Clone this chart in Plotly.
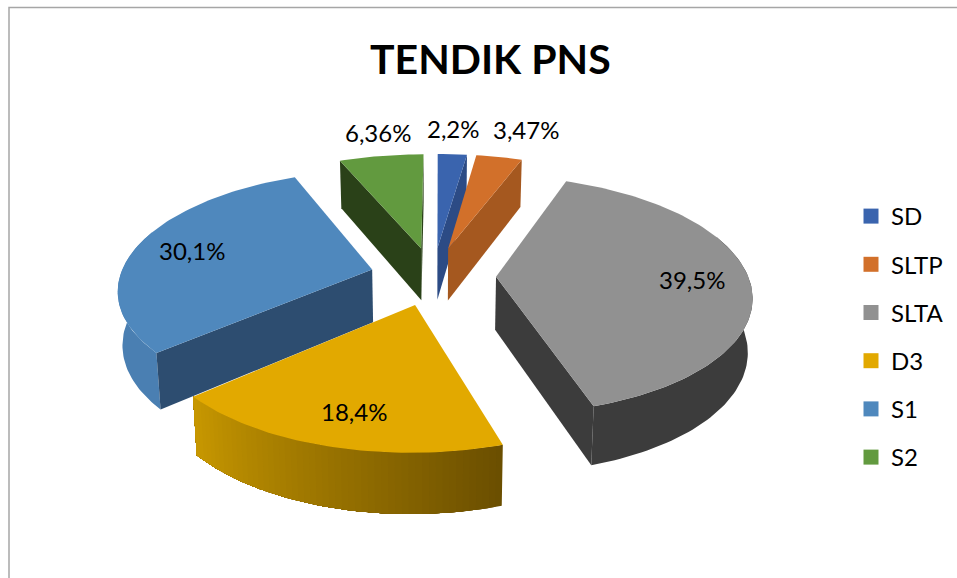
import math
import plotly.graph_objects as go

TITLE = "TENDIK PNS"
categories = ["SD", "SLTP", "SLTA", "D3", "S1", "S2"]
values = [2.2, 3.47, 39.5, 18.4, 30.1, 6.36]
top_colors = ["#3a64ae", "#d2702a", "#919191", "#e2a900", "#4f88bd", "#629a3f"]
cut_colors = ["#2c4b85", "#a5581f", "#3c3c3c", "#745500", "#2d4d70", "#2a4118"]
wall_from = ["#2c4b85", "#a5581f", "#3c3c3c", "#6a4e00", "#4a7fb2", "#2a4118"]
wall_to = ["#2c4b85", "#a5581f", "#3c3c3c", "#c89800", "#4a7fb2", "#2a4118"]
draw_order = ["S2", "SD", "SLTP", "S1", "SLTA", "D3"]
label_pos = {"SD": (453, 128), "SLTP": (526, 129), "SLTA": (692, 279),
             "D3": (354, 411), "S1": (192, 250), "S2": (378, 132)}

CX, CY, R, D, B, K = 433, 276, 252, 116, 1, 0.15
PULL, H, SHRINK = 0.25, 53, 0.985


def project(u, v, bottom=False):
    w = 1 + K * v
    x = (R * u + B * v) / w
    y = -D * v / w
    if bottom:
        return CX + x * SHRINK, CY + y + H / w ** 0.7
    return CX + x, CY + y


def mix(c1, c2, t):
    a = [int(c1[i:i + 2], 16) for i in (1, 3, 5)]
    b = [int(c2[i:i + 2], 16) for i in (1, 3, 5)]
    return "#%02x%02x%02x" % tuple(round(p + (q - p) * t) for p, q in zip(a, b))


def poly(fig, pts, color):
    xs = [p[0] for p in pts] + [pts[0][0]]
    ys = [p[1] for p in pts] + [pts[0][1]]
    fig.add_trace(go.Scatter(x=xs, y=ys, mode="lines", fill="toself", fillcolor=color,
                             line=dict(color=color, width=0), hoverinfo="skip",
                             showlegend=False))


fig = go.Figure()
total = sum(values)
spans = {}
acc = 0.0
for name, val in zip(categories, values):
    spans[name] = (acc / total * 2 * math.pi, (acc + val) / total * 2 * math.pi)
    acc += val

for name in draw_order:
    i = categories.index(name)
    t0, t1 = spans[name]
    mid = (t0 + t1) / 2
    ou, ov = PULL * math.sin(mid), PULL * math.cos(mid)
    n = max(6, int((t1 - t0) * 45))
    th = [t0 + (t1 - t0) * k / n for k in range(n + 1)]
    disk = [(ou + math.sin(a), ov + math.cos(a)) for a in th]
    top = [project(*d) for d in disk]
    bot = [project(*d, bottom=True) for d in disk]
    ap, ab = project(ou, ov), project(ou, ov, bottom=True)
    mp = top[n // 2]
    # outer wall: each band reaches the end of the wall, so no seams show
    vis = [k for k in range(n) if math.cos((th[k] + th[k + 1]) / 2) < 0.35]
    if vis:
        last = vis[-1] + 1
        uniform = wall_from[i] == wall_to[i]
        for k in vis[:1] if uniform else vis:
            poly(fig, top[k:last + 1] + bot[k:last + 1][::-1],
                 mix(wall_from[i], wall_to[i], (k + 0.5) / n))
    # cut faces: only those whose downward extrusion leaves the top face
    for r, b in ((top[0], bot[0]), (top[-1], bot[-1])):
        c1 = (r[0] - ap[0]) * (mp[1] - ap[1]) - (r[1] - ap[1]) * (mp[0] - ap[0])
        c2 = (r[0] - ap[0]) * 1
        if c1 * c2 < 0:
            poly(fig, [ap, r, b, ab], cut_colors[i])
    poly(fig, [ap] + top, top_colors[i])

for name, col in zip(categories, top_colors):
    fig.add_trace(go.Scatter(x=[None], y=[None], mode="markers", name=name, legendgroup=name,
                             marker=dict(symbol="square", size=15, color=col), hoverinfo="skip"))

anns = [dict(x=label_pos[c][0], y=label_pos[c][1], xref="x", yref="y", showarrow=False,
             text=f"{v}".replace(".", ",") + "%", font=dict(size=24, color="#000000"))
        for c, v in zip(categories, values)]
anns.append(dict(x=490, y=58, xref="x", yref="y", showarrow=False, text=f"<b>{TITLE}</b>",
                 font=dict(size=41, color="#000000")))

fig.update_layout(
    width=957, height=578, autosize=False,
    margin=dict(l=0, r=0, t=0, b=0),
    paper_bgcolor="#ffffff", plot_bgcolor="#ffffff",
    font=dict(family="Lato, Carlito, sans-serif", color="#000000"),
    xaxis=dict(range=[0, 957], visible=False, fixedrange=True),
    yaxis=dict(range=[578, 0], visible=False, fixedrange=True),
    annotations=anns,
    legend=dict(x=851 / 957, y=1 - 194 / 578, xanchor="left", yanchor="top",
                font=dict(size=24, color="#000000"), tracegroupgap=14,
                bgcolor="rgba(0,0,0,0)", itemwidth=30),
    shapes=[dict(type="rect", x0=9, y0=7.5, x1=980, y1=600, xref="x", yref="y",
                 line=dict(color="#a6a6a6", width=1.5), layer="below")],
)
fig.write_html("out.html", config={"displayModeBar": False},
               post_script="document.body.style.margin='0';document.body.style.overflow='hidden';")
